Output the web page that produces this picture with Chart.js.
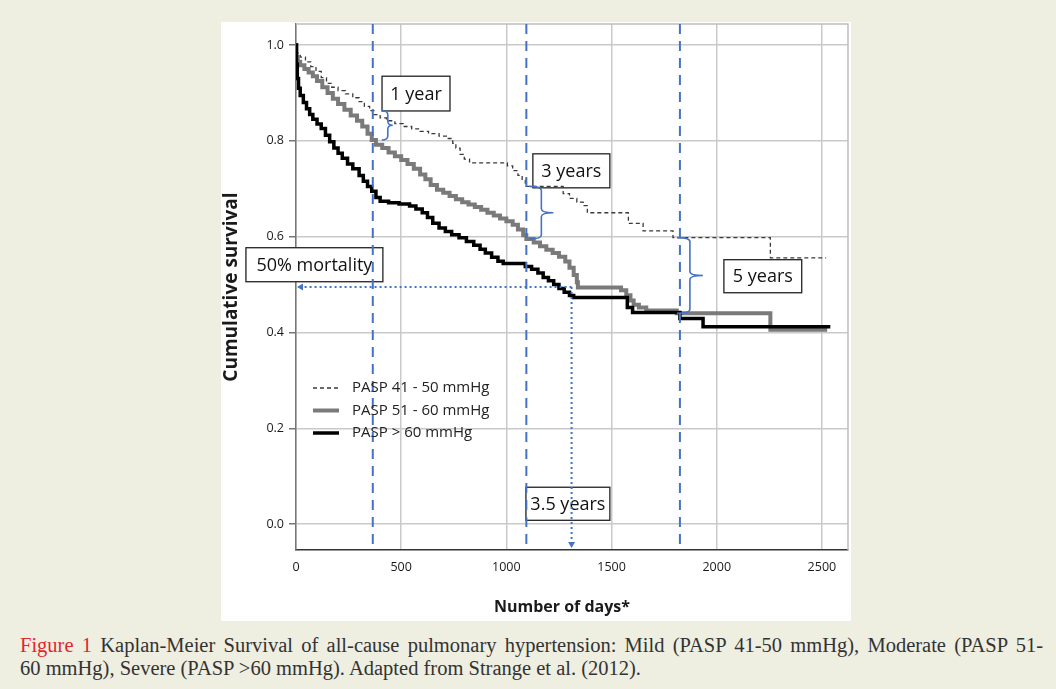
<!DOCTYPE html>
<html>
<head>
<meta charset="utf-8">
<title>Kaplan-Meier survival by PASP</title>
<script src="https://cdn.jsdelivr.net/npm/chart.js@4.4.0/dist/chart.umd.min.js"></script>
<style>
  html, body { margin: 0; padding: 0; background: #eeeee1; }
  body { width: 1056px; height: 689px; position: relative; overflow: hidden; }
  #panel { position: absolute; left: 221px; top: 22px; width: 630px; height: 599px; background: #fff; }
  .caption {
    position: absolute; left: 20px; width: 1023px;
    font-family: "Liberation Serif", "DejaVu Serif", serif; font-size: 20.5px; line-height: 23px; color: #333;
  }
  .caption.first { top: 634px; text-align: justify; text-align-last: justify; }
  .caption.second { top: 657px; }
  .caption b { color: #e2262d; font-weight: normal; }
</style>
</head>
<body>
<div id="panel"><canvas id="km" width="630" height="599"></canvas></div>
<div class="caption first"><b>Figure 1</b> Kaplan-Meier Survival of all-cause pulmonary hypertension: Mild (PASP 41-50 mmHg), Moderate (PASP 51-</div>
<div class="caption second">60 mmHg), Severe (PASP &gt;60 mmHg). Adapted from Strange et al. (2012).</div>

<script>
// Survival steps read per group: day of each step and survival after it
const mildDays = [0, 3, 20, 45, 70, 95, 120, 145, 170, 200, 235, 270, 300, 325, 350, 370, 400, 430, 470, 510, 550, 590, 630, 680, 715, 745, 760, 780, 800, 825, 1005, 1030, 1055, 1075, 1090, 1270, 1300, 1335, 1365, 1385, 1580, 1650, 1792, 2255, 2520];
const mildSurv = [1.0, 0.983, 0.975, 0.965, 0.955, 0.945, 0.932, 0.92, 0.912, 0.905, 0.898, 0.89, 0.882, 0.872, 0.863, 0.855, 0.848, 0.842, 0.836, 0.83, 0.825, 0.82, 0.815, 0.81, 0.805, 0.795, 0.785, 0.772, 0.762, 0.754, 0.748, 0.738, 0.728, 0.718, 0.705, 0.69, 0.68, 0.672, 0.665, 0.65, 0.628, 0.612, 0.598, 0.556, 0.556];

const moderateDays = [0, 2, 8, 20, 40, 60, 80, 100, 125, 150, 175, 200, 230, 260, 290, 315, 340, 360, 380, 410, 440, 470, 500, 530, 560, 590, 615, 640, 670, 700, 730, 760, 790, 820, 850, 880, 910, 940, 970, 1000, 1030, 1055, 1080, 1095, 1130, 1160, 1190, 1220, 1250, 1280, 1300, 1320, 1335, 1340, 1545, 1570, 1590, 1605, 1630, 1665, 1810, 2255, 2525];
const moderateSurv = [1.0, 0.975, 0.965, 0.958, 0.95, 0.943, 0.935, 0.925, 0.912, 0.9, 0.888, 0.877, 0.865, 0.853, 0.842, 0.83, 0.815, 0.802, 0.792, 0.785, 0.776, 0.768, 0.76, 0.752, 0.742, 0.73, 0.72, 0.708, 0.698, 0.692, 0.685, 0.678, 0.672, 0.667, 0.662, 0.656, 0.65, 0.644, 0.638, 0.632, 0.625, 0.615, 0.603, 0.595, 0.588, 0.58, 0.573, 0.566, 0.558, 0.548, 0.535, 0.52, 0.505, 0.494, 0.488, 0.478, 0.467, 0.458, 0.452, 0.446, 0.44, 0.406, 0.406];

const severeDays = [0, 2, 6, 12, 20, 35, 50, 65, 80, 100, 120, 140, 160, 180, 200, 220, 245, 270, 300, 320, 340, 360, 380, 400, 440, 490, 540, 570, 600, 625, 650, 680, 710, 740, 775, 810, 845, 875, 900, 930, 960, 985, 1090, 1120, 1150, 1175, 1200, 1225, 1250, 1275, 1300, 1320, 1575, 1600, 1825, 1935, 2540];
const severeSurv = [1.0, 0.96, 0.93, 0.91, 0.895, 0.88, 0.867, 0.855, 0.845, 0.835, 0.826, 0.812, 0.798, 0.785, 0.774, 0.764, 0.752, 0.742, 0.728, 0.716, 0.705, 0.695, 0.682, 0.674, 0.671, 0.668, 0.664, 0.658, 0.65, 0.64, 0.628, 0.618, 0.611, 0.604, 0.598, 0.59, 0.582, 0.574, 0.566, 0.557, 0.549, 0.544, 0.538, 0.532, 0.524, 0.515, 0.508, 0.5, 0.492, 0.484, 0.477, 0.473, 0.452, 0.442, 0.429, 0.412, 0.412];

const groupLabels = ['PASP 41 - 50 mmHg', 'PASP 51 - 60 mmHg', 'PASP > 60 mmHg'];
const dayTicks = [0, 500, 1000, 1500, 2000, 2500];
const survivalTicks = [0.0, 0.2, 0.4, 0.6, 0.8, 1.0];
const milestoneDays = [365, 1095, 1825];           // 1, 3 and 5 years
const medianPoint = { day: 1310, survival: 0.495 }; // 50% mortality, ~3.5 years

const toPoints = (days, surv) => days.map((d, i) => ({ x: d, y: surv[i] }));
const survivalAt = (days, surv, t) => {
  let v = surv[0];
  days.forEach((d, i) => { if (d <= t) v = surv[i]; });
  return v;
};

const BLUE = '#4472c4';

// text boxes, in axis units
const labelBoxes = [
  { text: '1 year', x0: 409, x1: 732, y0: 0.935, y1: 0.8625 },
  { text: '3 years', x0: 1126, x1: 1492, y0: 0.773, y1: 0.702 },
  { text: '5 years', x0: 2034, x1: 2404, y0: 0.552, y1: 0.483 },
  { text: '50% mortality', x0: -238, x1: 413, y0: 0.577, y1: 0.506 },
  { text: '3.5 years', x0: 1093, x1: 1492, y0: 0.077, y1: 0.008 }
];

// braces between the mild and moderate curves at each milestone
const braces = [
  { day: milestoneDays[0], start: 9, spine: 15, tip: 20 },
  { day: milestoneDays[1], start: 3, spine: 15, tip: 27 },
  { day: milestoneDays[2], start: -3, spine: 10, tip: 23 }
];

function drawBrace(ctx, x0, xs, xt, top, bot) {
  const mid = (top + bot) / 2, r = 4;
  ctx.beginPath();
  ctx.moveTo(x0, top);
  ctx.quadraticCurveTo(xs, top, xs, top + r);
  ctx.lineTo(xs, mid - r);
  ctx.quadraticCurveTo(xs, mid, xt, mid);
  ctx.moveTo(xt, mid);
  ctx.quadraticCurveTo(xs, mid, xs, mid + r);
  ctx.lineTo(xs, bot - r);
  ctx.quadraticCurveTo(xs, bot, x0, bot);
  ctx.stroke();
}

function arrowHead(ctx, x, y, dir) {
  ctx.beginPath();
  if (dir === 'left') {
    ctx.moveTo(x, y); ctx.lineTo(x + 6, y - 3.5); ctx.lineTo(x + 6, y + 3.5);
  } else {
    ctx.moveTo(x, y); ctx.lineTo(x - 3.5, y - 6); ctx.lineTo(x + 3.5, y - 6);
  }
  ctx.closePath();
  ctx.fill();
}

const annotations = {
  id: 'annotations',
  beforeDatasetsDraw(chart) {
    const { ctx, chartArea: a, scales: { x, y } } = chart;
    ctx.save();
    // frame on top and right
    ctx.strokeStyle = '#bdbdbd';
    ctx.lineWidth = 1.5;
    ctx.beginPath();
    ctx.moveTo(a.left, a.top); ctx.lineTo(a.right, a.top); ctx.lineTo(a.right, a.bottom);
    ctx.stroke();
    // label boxes
    ctx.font = '18px "Open Sans", sans-serif';
    ctx.textAlign = 'center';
    ctx.textBaseline = 'middle';
    labelBoxes.forEach(b => {
      const l = x.getPixelForValue(b.x0), r = x.getPixelForValue(b.x1);
      const t = y.getPixelForValue(b.y0), bt = y.getPixelForValue(b.y1);
      ctx.fillStyle = '#fff';
      ctx.fillRect(l, t, r - l, bt - t);
      ctx.strokeStyle = '#222';
      ctx.lineWidth = 1.3;
      ctx.strokeRect(l, t, r - l, bt - t);
      ctx.fillStyle = '#111';
      ctx.fillText(b.text, (l + r) / 2, (t + bt) / 2 + 1);
    });
    ctx.restore();
  },
  afterDatasetsDraw(chart) {
    const { ctx, chartArea: a, scales: { x, y } } = chart;
    ctx.save();
    // milestone lines
    ctx.strokeStyle = BLUE;
    ctx.lineWidth = 2;
    ctx.setLineDash([10, 7]);
    milestoneDays.forEach(d => {
      const px = x.getPixelForValue(d);
      ctx.beginPath();
      ctx.moveTo(px, a.top); ctx.lineTo(px, a.bottom);
      ctx.stroke();
    });
    // 50% mortality guide
    const mx = x.getPixelForValue(medianPoint.day);
    const my = y.getPixelForValue(medianPoint.survival);
    ctx.setLineDash([2, 3]);
    ctx.beginPath();
    ctx.moveTo(mx, my); ctx.lineTo(a.left + 5, my);
    ctx.moveTo(mx, my); ctx.lineTo(mx, a.bottom - 7);
    ctx.stroke();
    ctx.setLineDash([]);
    ctx.fillStyle = BLUE;
    arrowHead(ctx, a.left + 1, my, 'left');
    arrowHead(ctx, mx, a.bottom - 2, 'down');
    // braces
    ctx.lineWidth = 1.6;
    braces.forEach(b => {
      const px = x.getPixelForValue(b.day);
      const top = y.getPixelForValue(survivalAt(mildDays, mildSurv, b.day));
      const bot = y.getPixelForValue(survivalAt(moderateDays, moderateSurv, b.day));
      drawBrace(ctx, px + b.start, px + b.spine, px + b.tip, top, bot);
    });
    ctx.restore();
  },
  afterDraw(chart) {
    const { ctx } = chart;
    ctx.save();
    ctx.fillStyle = '#1a1a1a';
    ctx.font = 'bold 16px "Open Sans", sans-serif';
    ctx.textAlign = 'center';
    ctx.textBaseline = 'middle';
    ctx.fillText('Number of days*', 341, 585);
    ctx.translate(11, 265);
    ctx.rotate(-Math.PI / 2);
    ctx.font = 'bold 19px "Open Sans", sans-serif';
    ctx.fillText('Cumulative survival', 0, 0);
    ctx.restore();

    // legend
    ctx.save();
    ctx.font = '15px "Open Sans", sans-serif';
    ctx.textBaseline = 'middle';
    chart.data.datasets.forEach((ds, i) => {
      const yy = 366 + i * 22.5;
      ctx.strokeStyle = ds.borderColor;
      ctx.lineWidth = ds.borderWidth;
      ctx.setLineDash(ds.borderDash || []);
      ctx.beginPath();
      ctx.moveTo(92, yy); ctx.lineTo(118, yy);
      ctx.stroke();
      ctx.fillStyle = '#222';
      ctx.fillText(ds.label, 131, yy);
    });
    ctx.restore();
  }
};

Chart.defaults.font.family = '"Open Sans", sans-serif';

new Chart(document.getElementById('km'), {
  type: 'line',
  data: {
    datasets: [
      {
        label: groupLabels[0],
        data: toPoints(mildDays, mildSurv),
        borderColor: '#3a3a3a', borderWidth: 1.3, borderDash: [4, 3],
        stepped: true, pointRadius: 0, fill: false, order: 2
      },
      {
        label: groupLabels[1],
        data: toPoints(moderateDays, moderateSurv),
        borderColor: '#7a7a7a', borderWidth: 4,
        stepped: true, pointRadius: 0, fill: false, order: 1
      },
      {
        label: groupLabels[2],
        data: toPoints(severeDays, severeSurv),
        borderColor: '#000', borderWidth: 3.5,
        stepped: true, pointRadius: 0, fill: false, order: 0
      }
    ]
  },
  options: {
    responsive: false,
    animation: false,
    devicePixelRatio: 1,
    layout: { padding: { top: 2, right: 3, left: 0, bottom: 0 } },
    plugins: { legend: { display: false }, tooltip: { enabled: false } },
    scales: {
      x: {
        type: 'linear',
        min: 0, max: 2624,
        afterBuildTicks: s => { s.ticks = dayTicks.map(v => ({ value: v })); },
        afterFit: s => { s.height = 71; s.paddingLeft = 0; s.paddingRight = 0; },
        ticks: { color: '#1a1a1a', font: { size: 12.5 }, padding: 10, callback: v => String(v) },
        grid: { color: '#c9c9c9', lineWidth: 1.5, drawTicks: false },
        border: { color: '#333', width: 1.5 }
      },
      y: {
        type: 'linear',
        min: -0.054, max: 1.044,
        afterBuildTicks: s => { s.ticks = survivalTicks.map(v => ({ value: v })); },
        afterFit: s => { s.width = 75; s.paddingTop = 0; s.paddingBottom = 0; },
        ticks: { color: '#1a1a1a', font: { size: 12.5 }, padding: 5, callback: v => v.toFixed(1) },
        grid: { color: '#c9c9c9', lineWidth: 1.5, tickLength: 7, tickColor: '#777' },
        border: { color: '#777', width: 1.5 }
      }
    }
  },
  plugins: [annotations]
});
</script>
</body>
</html>
